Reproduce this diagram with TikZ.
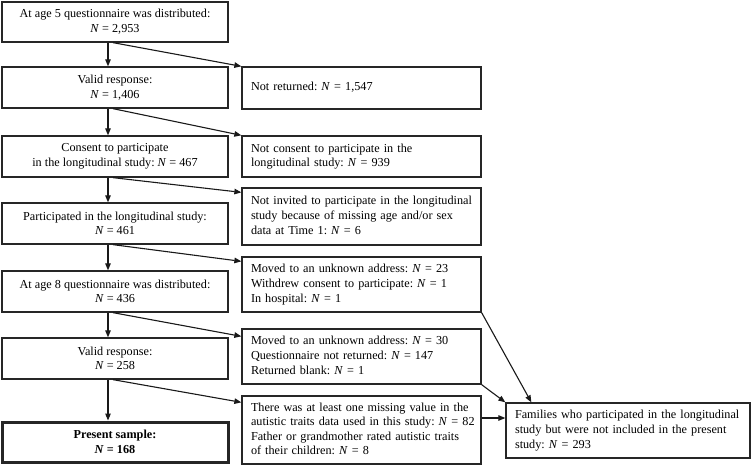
\documentclass[tikz,border=0pt]{standalone}
\usepackage{fontspec}
\setmainfont{Liberation Serif}
\usetikzlibrary{arrows.meta,calc}
\newcommand\lines[1]{\begin{tabular}{@{}l@{}}#1\end{tabular}}
\begin{document}
\begin{tikzpicture}[x=1pt,y=-1pt,
  box/.style={draw=black!85, line width=1.3pt, inner sep=0pt, font=\fontsize{12.2}{14.6}\selectfont\frenchspacing},
  lbox/.style={box, minimum width=226pt, align=center},
  rbox/.style={box, text width=221pt, inner xsep=9pt, align=left},
  fbox/.style={box, text width=226pt, inner xsep=9pt, align=left},
  arr/.style={-{Triangle[length=7pt,width=5.5pt]}, line width=1.1pt, draw=black!90}]
\useasboundingbox (0,0) rectangle (751,465);
% left column
\node[lbox, minimum height=40pt] (b1) at (115,22) {At age 5 questionnaire was distributed:\\\textit{N} = 2,953};
\node[lbox, minimum height=41pt] (b2) at (115,87.5) {Valid response:\\\textit{N} = 1,406};
\node[lbox, minimum height=41pt] (b3) at (115,156.5) {Consent to participate\\in the longitudinal study: \textit{N} = 467};
\node[lbox, minimum height=41pt] (b4) at (115,223.5) {Participated in the longitudinal study:\\\textit{N} = 461};
\node[lbox, minimum height=41pt] (b5) at (115,291.5) {At age 8 questionnaire was distributed:\\\textit{N} = 436};
\node[lbox, minimum height=41pt] (b6) at (115,358.5) {Valid response:\\\textit{N} = 258};
\node[lbox, minimum height=40pt, line width=3pt] (b7) at (115,442) {\textbf{Present sample:}\\\textbf{\textit{N} = 168}};
% right column
\node[rbox, minimum height=42pt] (r1) at (361.5,88) {\lines{Not returned: \textit{N} = 1,547}};
\node[rbox, minimum height=41pt] (r2) at (361.5,156.5) {\lines{Not consent to participate in the\\longitudinal study: \textit{N} = 939}};
\node[rbox, minimum height=57pt] (r3) at (361.5,216.5) {\lines{Not invited to participate in the longitudinal\\study because of missing age and/or sex\\data at Time 1: \textit{N} = 6}};
\node[rbox, minimum height=55pt] (r4) at (361.5,284.5) {\lines{Moved to an unknown address: \textit{N} = 23\\Withdrew consent to participate: \textit{N} = 1\\In hospital: \textit{N} = 1}};
\node[rbox, minimum height=55pt] (r5) at (361.5,356.5) {\lines{Moved to an unknown address: \textit{N} = 30\\Questionnaire not returned: \textit{N} = 147\\Returned blank: \textit{N} = 1}};
\node[rbox, minimum height=68pt] (r6) at (361.5,430) {\lines{There was at least one missing value in the\\autistic traits data used in this study: \textit{N} = 82\\Father or grandmother rated autistic traits\\of their children: \textit{N} = 8}};
\node[fbox, minimum height=55pt] (fam) at (628,430.5) {\lines{Families who participated in the longitudinal\\study but were not included in the present\\study: \textit{N} = 293}};
% vertical arrows
\foreach \a/\b in {b1/b2,b2/b3,b3/b4,b4/b5,b5/b6,b6/b7}
  \draw[arr] ($(\a.south)+(-7,0)$) -- ($(\b.north)+(-7,0)$);
% diagonal arrows
\draw[arr] ($(b1.south)+(-2,0)$) -- ($(r1.north west)+(0,0)$);
\draw[arr] ($(b2.south)+(-2,0)$) -- ($(r2.north west)+(0,0)$);
\draw[arr] ($(b3.south)+(-2,0)$) -- ($(r3.north west)+(0,5)$);
\draw[arr] ($(b4.south)+(-2,0)$) -- ($(r4.north west)+(0,5)$);
\draw[arr] ($(b5.south)+(-2,0)$) -- ($(r5.north west)+(0,8)$);
\draw[arr] ($(b6.south)+(-2,0)$) -- ($(r6.north west)+(0,7)$);
% to families
\coordinate (h) at (0,418);
\draw[arr] (r4.south east) -- ($(fam.north west)+(26,0)$);
\draw[arr] (r5.south east) -- (fam.north west);
\draw[arr] (r6.east |- h) -- (fam.west |- h);
\end{tikzpicture}
\end{document}
